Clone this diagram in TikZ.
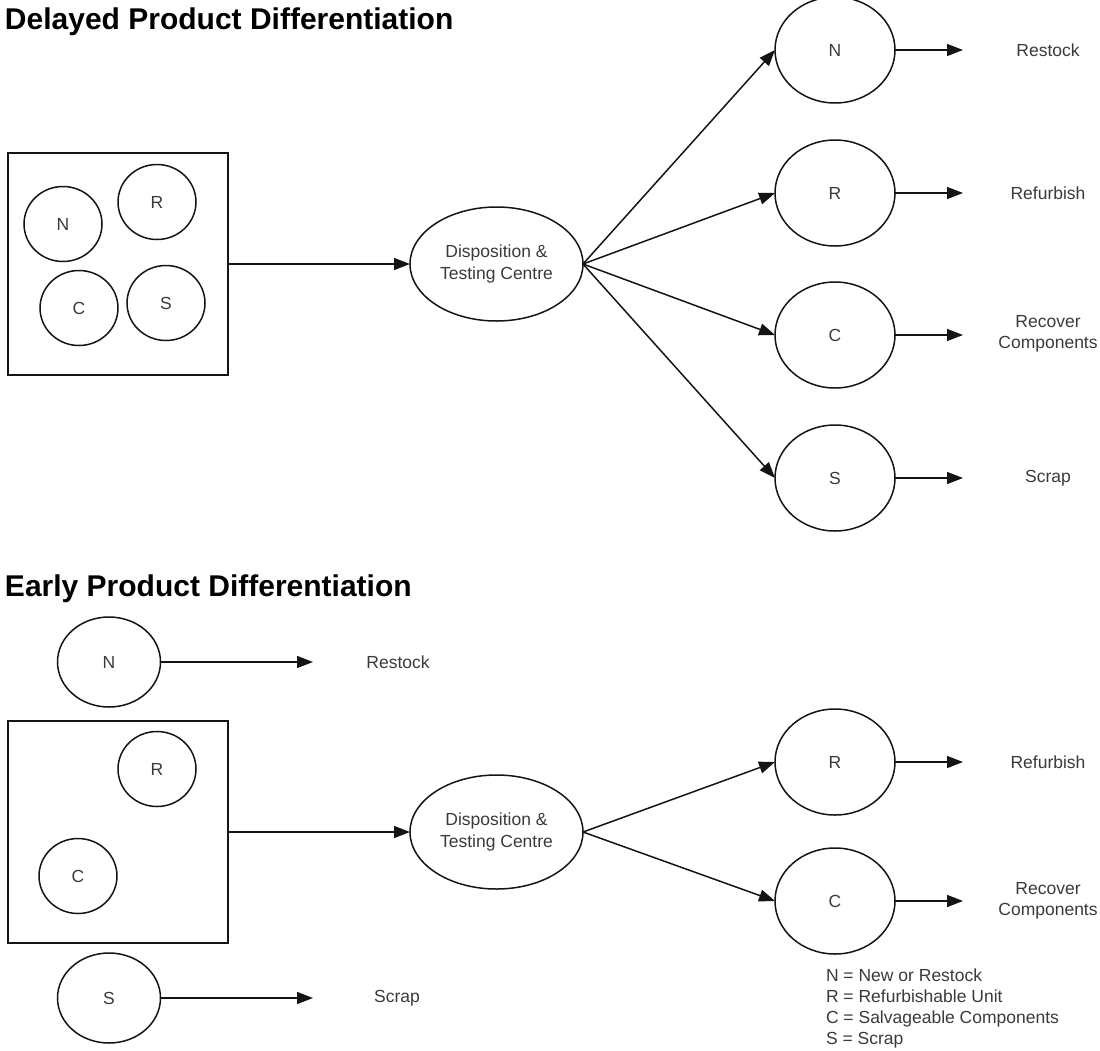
\documentclass[tikz,border=0pt]{standalone}
\usepackage{fontspec}
\setmainfont{Liberation Sans}
\usetikzlibrary{shapes.geometric,arrows.meta}
\definecolor{ink}{HTML}{141414}
\definecolor{txt}{HTML}{3A3A3A}
\begin{document}
\begin{tikzpicture}[x=1pt,y=-1pt,
  every node/.style={inner sep=0pt, outer sep=0pt},
  shapeline/.style={draw=ink, line width=1.5pt},
  lbl/.style={text=txt, font=\fontsize{17.5}{21.5}\selectfont, align=center},
  unit/.style={shapeline, ellipse, lbl},
  small/.style={unit, minimum width=78pt, minimum height=75pt},
  mid/.style={unit, minimum width=103pt, minimum height=90pt},
  big/.style={unit, minimum width=120pt, minimum height=106pt},
  hub/.style={unit, minimum width=173pt, minimum height=114pt},
  bin/.style={shapeline, rectangle, minimum width=220pt, minimum height=222pt},
  flow/.style={draw=ink, line width=1.5pt, -{Triangle[length=16pt,width=12pt]}},
  heading/.style={anchor=base west, font=\fontsize{30}{34}\selectfont\bfseries, text=black}]

\useasboundingbox (0,0) rectangle (1100,1050);

% ---------------- Delayed product differentiation ----------------
\node[heading] (t1) at (5,29) {Delayed Product Differentiation};

\node[bin] (box1) at (118,264) {};
\node[small] (bn1) at (63,224) {N};
\node[small] (br1) at (157,202) {R};
\node[small] (bc1) at (79,308) {C};
\node[small] (bs1) at (166,303) {S};

\node[hub] (hub1) at (496.5,264) {Disposition \&\\Testing Centre};

\node[big] (n1) at (835,50) {N};
\node[big] (r1) at (835,193) {R};
\node[big] (c1) at (835,335) {C};
\node[big] (s1) at (835,478) {S};

\coordinate (en1) at (963,50);
\coordinate (er1) at (963,193);
\coordinate (ec1) at (963,335);
\coordinate (es1) at (963,478);

\node[lbl] (ln1) at (1048,50) {Restock};
\node[lbl] (lr1) at (1048,193) {Refurbish};
\node[lbl] (lc1) at (1048,334) {Recover\\Components};
\node[lbl] (ls1) at (1048,478) {Scrap};

\draw[flow] (box1.east) -- (hub1.west);
\draw[flow] (hub1.east) -- (n1.west);
\draw[flow] (hub1.east) -- (r1.west);
\draw[flow] (hub1.east) -- (c1.west);
\draw[flow] (hub1.east) -- (s1.west);
\draw[flow] (n1.east) -- (en1);
\draw[flow] (r1.east) -- (er1);
\draw[flow] (c1.east) -- (ec1);
\draw[flow] (s1.east) -- (es1);

% ---------------- Early product differentiation ----------------
\node[heading] (t2) at (5,596) {Early Product Differentiation};

\node[mid] (n2) at (109,662) {N};
\coordinate (en2) at (313,662);
\node[lbl] (ln2) at (398,662) {Restock};
\draw[flow] (n2.east) -- (en2);

\node[bin] (box2) at (118,832) {};
\node[small] (br2) at (157,769) {R};
\node[small] (bc2) at (78,876) {C};

\node[mid] (s2) at (109,998) {S};
\coordinate (es2) at (313,998);
\node[lbl] (ls2) at (397,998) {Scrap};
\draw[flow] (s2.east) -- (es2);

\node[hub] (hub2) at (496.5,832) {Disposition \&\\Testing Centre};

\node[big] (r2) at (835,762) {R};
\node[big] (c2) at (835,901) {C};
\coordinate (er2) at (963,762);
\coordinate (ec2) at (963,901);
\node[lbl] (lr2) at (1048,762) {Refurbish};
\node[lbl] (lc2) at (1048,901) {Recover\\Components};

\draw[flow] (box2.east) -- (hub2.west);
\draw[flow] (hub2.east) -- (r2.west);
\draw[flow] (hub2.east) -- (c2.west);
\draw[flow] (r2.east) -- (er2);
\draw[flow] (c2.east) -- (ec2);

% legend
\node[lbl, align=left, anchor=north west, font=\fontsize{17.5}{21}\selectfont] (key) at (826,969)
  {N = New or Restock\\R = Refurbishable Unit\\C = Salvageable Components\\S = Scrap};
\end{tikzpicture}
\end{document}
